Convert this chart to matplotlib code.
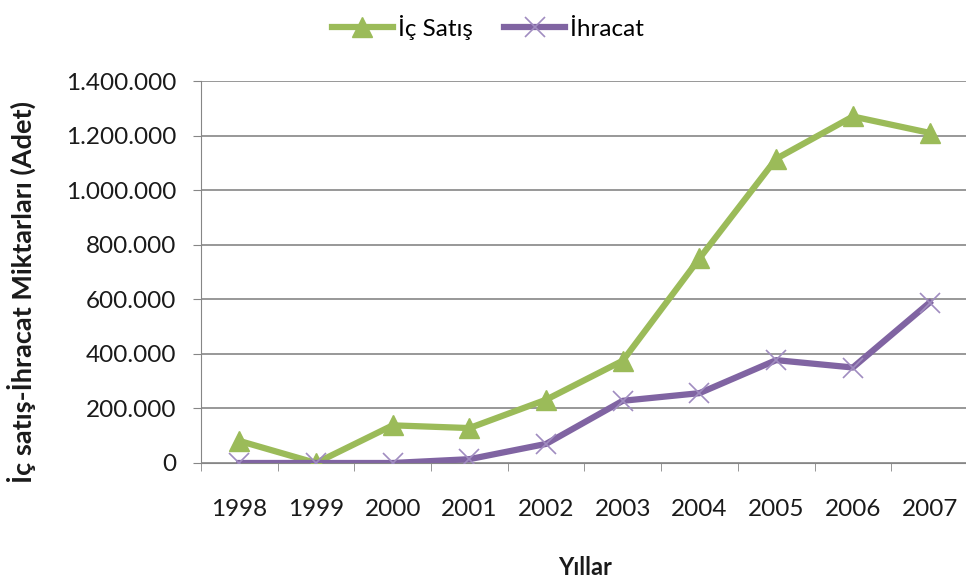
import matplotlib
matplotlib.use('Agg')
import matplotlib.pyplot as plt
from matplotlib.ticker import FuncFormatter

years = ['1998', '1999', '2000', '2001', '2002', '2003', '2004', '2005', '2006', '2007']
ic_satis = [81000, 0, 138000, 128000, 232000, 375000, 750000, 1115000, 1270000, 1210000]
ihracat = [0, 0, 0, 14000, 70000, 228000, 256000, 377000, 350000, 588000]
y_ticks = [0, 200000, 400000, 600000, 800000, 1000000, 1200000, 1400000]

plt.rcParams['font.family'] = ['Lato', 'DejaVu Sans']

fig = plt.figure(figsize=(9.66, 5.88), dpi=100)
ax = fig.add_axes([0.208, 0.2126, 0.794, 0.6496])

x = list(range(len(years)))
ax.plot(x, ic_satis, color='#9BBB59', lw=4.5, marker='^', markersize=15,
        markerfacecolor='#9BBB59', markeredgecolor='#9BBB59', label='İç Satış', zorder=3)
ax.plot(x, ihracat, color='#8064A2', lw=4.5, marker='x', markersize=15,
        markeredgewidth=1.2, markeredgecolor='#A08CC0', label='İhracat', zorder=4)

ax.set_xlim(-0.5, len(years) - 0.5)
ax.set_ylim(0, 1400000)
ax.set_yticks(y_ticks)
ax.yaxis.set_major_formatter(FuncFormatter(lambda v, p: f'{int(v):,}'.replace(',', '.')))
ax.set_xticks(x)
ax.set_xticklabels(years)
ax.set_xticks([i - 0.5 for i in range(len(years) + 1)], minor=True)
ax.tick_params(axis='x', which='major', length=0, pad=26, labelsize=17.5, labelcolor='#1a1a1a')
ax.tick_params(axis='x', which='minor', length=6, color='#868686')
ax.tick_params(axis='y', length=6, color='#868686', labelsize=17.5, pad=12, labelcolor='#1a1a1a')

ax.grid(axis='y', color='#868686', lw=1.2)
ax.set_axisbelow(True)
for s in ['top', 'right']:
    ax.spines[s].set_visible(False)
ax.spines['left'].set_color('#868686')
ax.spines['bottom'].set_color('#868686')

# y label placed by hand, like the original
fig.text(0.022, 1 - 292 / 588, 'İç satış-İhracat Miktarları (Adet)', rotation=90,
         ha='center', va='center', fontsize=19.5, fontweight='bold', color='#1a1a1a')
fig.text(0.606, 0.022, 'Yıllar', ha='center', fontsize=17, fontweight='bold', color='#1a1a1a')

fig.legend(loc='upper center', bbox_to_anchor=(0.505, 1.012), ncol=2, frameon=False,
           fontsize=17.5, handlelength=2.5, columnspacing=1.3, handletextpad=0.2)

fig.savefig('out.png', dpi=100)
